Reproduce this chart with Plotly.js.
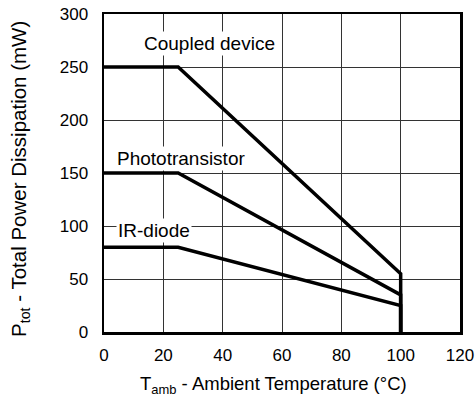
<!DOCTYPE html>
<html>
<head>
<meta charset="utf-8">
<script src="https://cdn.plot.ly/plotly-3.0.1.min.js"></script>
<style>html,body{margin:0;padding:0;background:#fff;}#chart{width:476px;height:410px;}</style>
</head>
<body>
<div id="chart"></div>
<script>
// Data
const temps = [0, 25, 100, 100];
const coupled = [250, 250, 55, 0];
const phototransistor = [150, 150, 35, 0];
const irDiode = [80, 80, 25, 0];
const seriesNames = ["Coupled device", "Phototransistor", "IR-diode"];
const labelX = [35.6, 26.1, 16.7];
const labelY = [272, 164, 96];
const xTitle = "T<sub>amb</sub> - Ambient Temperature (°C)";
const yTitle = "P<sub>tot</sub> - Total Power Dissipation (mW)";

const FONT = "Liberation Sans, Arial, Helvetica, sans-serif";
const lineStyle = {color: "#000", width: 3.5};
const series = [coupled, phototransistor, irDiode];
const traces = series.map((ys, i) => ({
  x: temps, y: ys, mode: "lines", name: seriesNames[i],
  line: lineStyle, hoverinfo: "skip"
}));

const annotations = seriesNames.map((n, i) => ({
  x: labelX[i], y: labelY[i], xref: "x", yref: "y",
  text: n, showarrow: false, bgcolor: "#fff",
  font: {family: FONT, size: 19, color: "#000"}, borderpad: 1
}));
annotations.push({
  xref: "paper", yref: "paper", x: 0.476, y: 0, yanchor: "middle", yshift: -53,
  text: xTitle, showarrow: false, font: {family: FONT, size: 18.5, color: "#000"}
});
annotations.push({
  xref: "paper", yref: "paper", x: 0, y: 0.481, xanchor: "center", yanchor: "middle", xshift: -84,
  textangle: -90, text: yTitle, showarrow: false, font: {family: FONT, size: 20.5, color: "#000"}
});

const axisCommon = {
  tickmode: "linear", tick0: 0,
  showgrid: true, gridcolor: "#333333", gridwidth: 1,
  showline: true, mirror: true, linecolor: "#000", linewidth: 2.5,
  zeroline: false, ticks: "", tickfont: {size: 17, family: FONT, color: "#000"},
  layer: "above traces"
};

const layout = {
  width: 476, height: 410,
  margin: {l: 104, r: 16, t: 14, b: 78},
  paper_bgcolor: "#fff", plot_bgcolor: "#fff",
  showlegend: false,
  font: {family: FONT, color: "#000"},
  xaxis: Object.assign({}, axisCommon, {range: [0, 120], dtick: 20, ticklabelstandoff: 6}),
  yaxis: Object.assign({}, axisCommon, {range: [0, 300], dtick: 50, ticklabelstandoff: 10}),
  annotations: annotations
};

Plotly.newPlot("chart", traces, layout, {staticPlot: true, displayModeBar: false});
</script>
</body>
</html>
